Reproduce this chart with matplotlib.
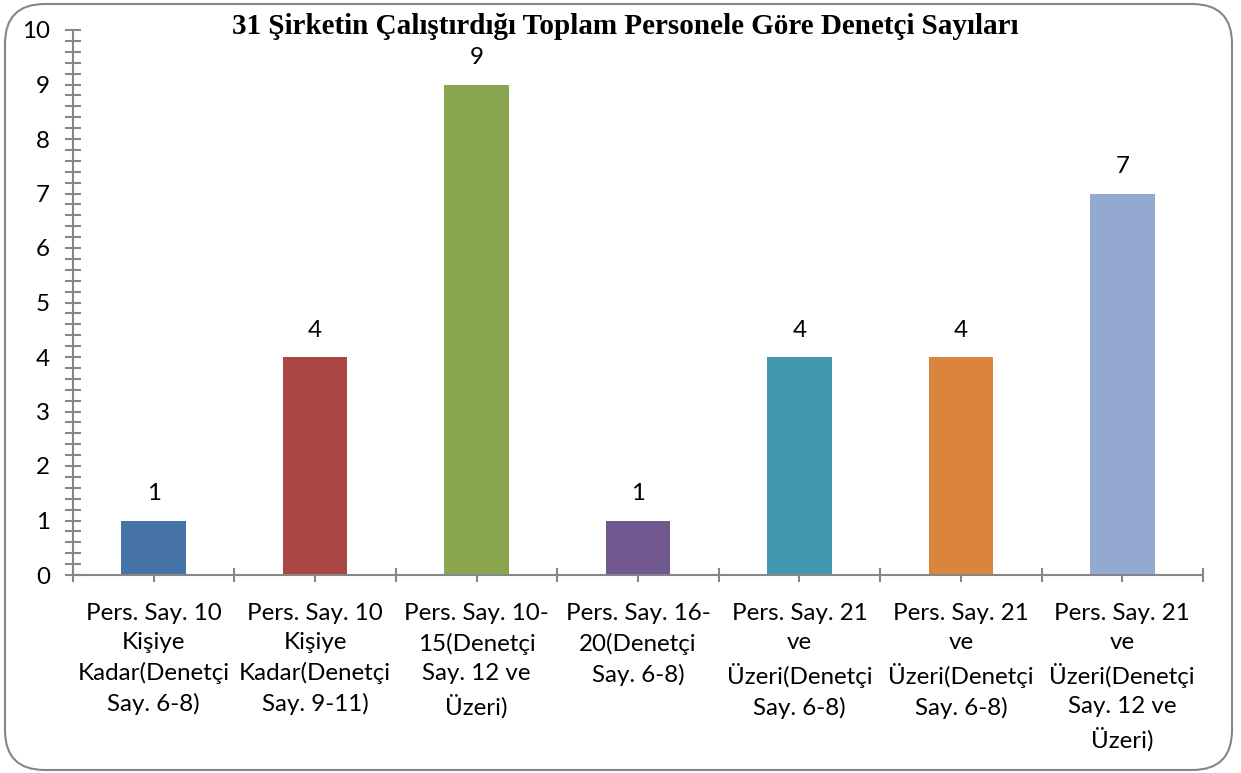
import matplotlib
matplotlib.use("Agg")
import matplotlib.pyplot as plt
from matplotlib.patches import FancyBboxPatch
from matplotlib.ticker import MultipleLocator, FixedLocator, NullFormatter

title = "31 Şirketin Çalıştırdığı Toplam Personele Göre Denetçi Sayıları"
categories = [
    "Pers. Say. 10\nKişiye\nKadar(Denetçi\nSay. 6-8)",
    "Pers. Say. 10\nKişiye\nKadar(Denetçi\nSay. 9-11)",
    "Pers. Say. 10-\n15(Denetçi\nSay. 12 ve\nÜzeri)",
    "Pers. Say. 16-\n20(Denetçi\nSay. 6-8)",
    "Pers. Say. 21\nve\nÜzeri(Denetçi\nSay. 6-8)",
    "Pers. Say. 21\nve\nÜzeri(Denetçi\nSay. 6-8)",
    "Pers. Say. 21\nve\nÜzeri(Denetçi\nSay. 12 ve\nÜzeri)",
]
counts = [1, 4, 9, 1, 4, 4, 7]
colors = ["#4572A7", "#AA4643", "#89A54E", "#71588F", "#4198AF", "#DB843D", "#93A9CF"]

W, H = 1241, 773
fig = plt.figure(figsize=(W / 100, H / 100), dpi=100)
plt.rcParams["font.family"] = ["Lato", "DejaVu Sans"]
FS = 17.4

# rounded chart frame
frame = FancyBboxPatch((5 / W, 3 / H), 1227 / W, 766 / H,
                       boxstyle="round,pad=0,rounding_size=0.032",
                       transform=fig.transFigure, facecolor="white",
                       edgecolor="#868686", linewidth=1.5, mutation_aspect=W / H,
                       zorder=-5)
fig.patches.append(frame)

left, right, bottom, top = 73, 1203, 575, 30
ax = fig.add_axes([left / W, 1 - bottom / H, (right - left) / W, (bottom - top) / H])
ax.set_facecolor("none")
ax.set_zorder(1)

x = list(range(len(counts)))
ax.bar(x, counts, width=0.4, color=colors, zorder=2)
for xi, v in zip(x, counts):
    ax.text(xi, v + 0.3, str(v), ha="center", va="bottom", fontsize=FS, color="black")

ax.set_xlim(-0.5, len(counts) - 0.5)
ax.set_ylim(0, 10)

for s in ["top", "right"]:
    ax.spines[s].set_visible(False)
for s in ["left", "bottom"]:
    ax.spines[s].set_color("#868686")
    ax.spines[s].set_linewidth(1.5)
    ax.spines[s].set_zorder(3)

ax.yaxis.set_major_locator(MultipleLocator(1))
ax.yaxis.set_minor_locator(MultipleLocator(0.2))
ax.tick_params(axis="y", which="major", direction="inout", length=11, width=1.5,
               color="#868686", labelsize=FS, pad=11)
ax.tick_params(axis="y", which="minor", direction="inout", length=11, width=1.5,
               color="#868686")

ax.xaxis.set_major_locator(FixedLocator([i - 0.5 for i in range(len(counts) + 1)]))
ax.xaxis.set_major_formatter(NullFormatter())
ax.xaxis.set_minor_locator(FixedLocator(x))
ax.set_xticks(x, categories, minor=True)
ax.tick_params(axis="x", which="major", direction="inout", length=10, width=1.5,
               color="#868686")
ax.tick_params(axis="x", which="minor", direction="inout", length=10, width=1.5,
               color="#868686", labelsize=FS, pad=15.5)
for lbl in ax.get_xticklabels(minor=True):
    lbl.set_linespacing(1.47)
    lbl.set_horizontalalignment("center")

fig.text(625 / W, 1 - 27 / H, title, ha="center", va="center",
         fontsize=21, fontweight="bold", family="Liberation Serif", zorder=5)

fig.savefig("out.png", dpi=100)
